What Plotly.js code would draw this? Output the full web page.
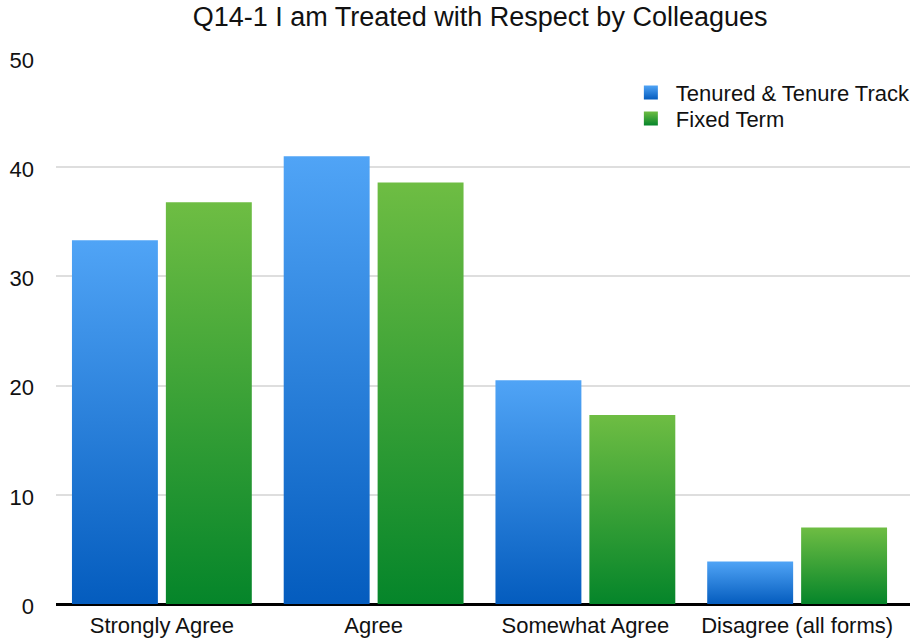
<!DOCTYPE html>
<html>
<head>
<meta charset="utf-8">
<script src="https://cdn.plot.ly/plotly-3.0.1.min.js"></script>
<style>html,body{margin:0;padding:0;background:#fff;}#chart{width:911px;height:642px;}</style>
</head>
<body>
<div id="chart"></div>
<script>
var categories = ["Strongly Agree", "Agree", "Somewhat Agree", "Disagree (all forms)"];
var tenuredValues = [33.3, 41.0, 20.5, 3.9];
var fixedValues = [36.8, 38.6, 17.3, 7.0];
var seriesNames = ["Tenured & Tenure Track", "Fixed Term"];
var yTicks = [0, 10, 20, 30, 40, 50];

var font = "Liberation Sans, Arial, Helvetica, sans-serif";

var traces = [
  {type: "bar", name: seriesNames[0], x: categories, y: tenuredValues,
   marker: {color: "#2f86e0", line: {width: 0}}, hoverinfo: "skip"},
  {type: "bar", name: seriesNames[1], x: categories, y: fixedValues,
   marker: {color: "#3aa33a", line: {width: 0}}, hoverinfo: "skip"}
];

var layout = {
  width: 911, height: 642,
  margin: {l: 56, r: 1, t: 58, b: 38, pad: 0, autoexpand: false},
  paper_bgcolor: "#fff", plot_bgcolor: "#fff",
  title: {text: "Q14-1 I am Treated with Respect by Colleagues",
          font: {family: font, size: 27, color: "#111"},
          x: 0.527, xanchor: "center", y: 0.9735, yanchor: "middle"},
  barmode: "group", bargap: 0.113, bargroupgap: 0.085,
  showlegend: true,
  legend: {x: 0.679, y: 0.975, xanchor: "left", yanchor: "top",
           font: {family: font, size: 22, color: "#111"},
           bgcolor: "rgba(0,0,0,0)", itemwidth: 30, tracegroupgap: 0},
  xaxis: {type: "category", range: [-0.5, 3.533], showgrid: false, zeroline: false,
          tickfont: {family: font, size: 22, color: "#111"},
          ticks: "", showline: false, fixedrange: true, ticklabelstandoff: 6},
  yaxis: {range: [0, 50], tickvals: yTicks, ticktext: yTicks.map(String),
          showgrid: true, gridcolor: "#dedede", gridwidth: 2,
          zeroline: true, zerolinecolor: "#000", zerolinewidth: 3,
          tickfont: {family: font, size: 22, color: "#111"},
          ticks: "", ticklabelstandoff: 21, ticklabelshift: 2, showline: false, fixedrange: true}
};

Plotly.newPlot("chart", traces, layout, {displayModeBar: false, staticPlot: true}).then(function(gd){
  var svgNS = "http://www.w3.org/2000/svg";
  var svg = gd.querySelector("svg.main-svg");
  var defs = svg.querySelector("defs") || svg.insertBefore(document.createElementNS(svgNS, "defs"), svg.firstChild);
  function grad(id, top, bottom){
    var g = document.createElementNS(svgNS, "linearGradient");
    g.setAttribute("id", id); g.setAttribute("x1", "0"); g.setAttribute("y1", "0");
    g.setAttribute("x2", "0"); g.setAttribute("y2", "1");
    [[0, top], [1, bottom]].forEach(function(s){
      var st = document.createElementNS(svgNS, "stop");
      st.setAttribute("offset", s[0]); st.setAttribute("stop-color", s[1]);
      g.appendChild(st);
    });
    defs.appendChild(g);
  }
  grad("gBlue", "#50a4f6", "#045cbe");
  grad("gGreen", "#6ebd43", "#05852a");
  var ids = ["gBlue", "gGreen"];
  gd.querySelectorAll(".barlayer .trace.bars").forEach(function(t, i){
    t.querySelectorAll("path").forEach(function(p){ p.style.fill = "url(#" + ids[i] + ")"; });
  });
  var legendTraces = gd.querySelectorAll(".legend .traces");
  var firstY = null;
  legendTraces.forEach(function(t, i){
    t.querySelectorAll(".legendpoints path").forEach(function(p){
      p.style.fill = "url(#" + ids[i] + ")"; p.style.stroke = "none";
      p.setAttribute("d", "M2,7H-12V-7H2Z");
    });
    var m = /translate\(\s*([-\d.]+)[ ,]+([-\d.]+)\s*\)/.exec(t.getAttribute("transform") || "");
    if (m) {
      if (i === 0) firstY = parseFloat(m[2]);
      else t.setAttribute("transform", "translate(" + m[1] + "," + (firstY + 26 * i) + ")");
    }
  });
});
</script>
</body>
</html>
